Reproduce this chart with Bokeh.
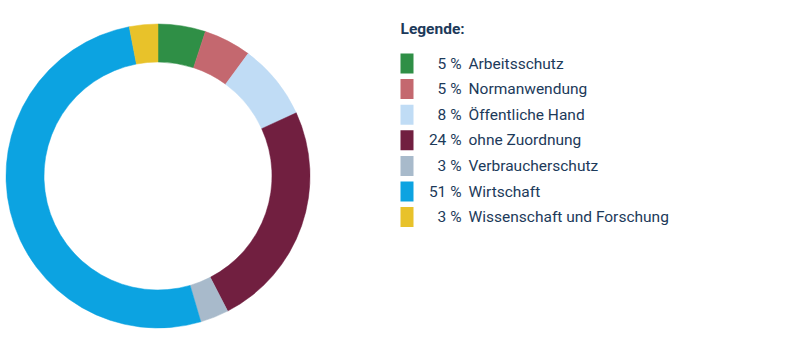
from bokeh.plotting import figure
from bokeh.models import Range1d, ColumnDataSource
from bokeh.core.properties import value
from bokeh.embed import file_html
from bokeh.resources import INLINE
import math

categories = ["Arbeitsschutz", "Normanwendung", "Öffentliche Hand", "ohne Zuordnung",
              "Verbraucherschutz", "Wirtschaft", "Wissenschaft und Forschung"]
percents = [5, 5, 8, 24, 3, 51, 3]
colors = ["#2f8f46", "#c4686f", "#c0dcf5", "#711f40", "#a8bacb", "#0ca3e1", "#e8c22a"]
legend_title = "Legende:"

W, H = 801, 351
p = figure(width=W, height=H, output_backend="svg", toolbar_location=None,
           x_range=Range1d(0, W), y_range=Range1d(H, 0), min_border=0)
p.axis.visible = False
p.grid.visible = False
p.outline_line_color = None
p.background_fill_color = "white"

total = sum(percents)
cx, cy = 157.5, 175.5
starts, ends = [], []
acc = 0.0
for v in percents:
    starts.append(math.pi / 2 - acc / total * 2 * math.pi)
    acc += v
    ends.append(math.pi / 2 - acc / total * 2 * math.pi)

src = ColumnDataSource(dict(start=starts, end=ends, color=colors,
                            x=[cx] * len(percents), y=[cy] * len(percents)))
p.annular_wedge(x="x", y="y", inner_radius=114, outer_radius=152,
                start_angle="start", end_angle="end", direction="clock",
                fill_color="color", line_color="color", line_width=0.5, source=src)

# legend
row0, step = 63.0, 25.6
ys = [row0 + i * step for i in range(len(categories))]
lsrc = ColumnDataSource(dict(y=ys, color=colors,
                             pct=[f"{v} %" for v in percents], cat=categories,
                             xs=[406.5] * len(ys), xp=[461] * len(ys), xl=[468] * len(ys)))
p.rect(x="xs", y="y", width=13, height=20, fill_color="color", line_color=None, source=lsrc)
txt_color = "#1c3a5a"
fs = "15.5px"
p.text(x="xp", y="y", text="pct", source=lsrc, text_align="right", text_baseline="middle",
       text_font=value("Roboto"), text_font_size=fs, text_color=txt_color)
p.text(x="xl", y="y", text="cat", source=lsrc, text_align="left", text_baseline="middle",
       text_font=value("Roboto"), text_font_size=fs, text_color=txt_color)
p.text(x=[400], y=[28], text=[legend_title], text_align="left", text_baseline="middle",
       text_font=value("Roboto"), text_font_size=fs, text_font_style="bold",
       text_color=txt_color)

open("out.html", "w").write(file_html(p, INLINE))
